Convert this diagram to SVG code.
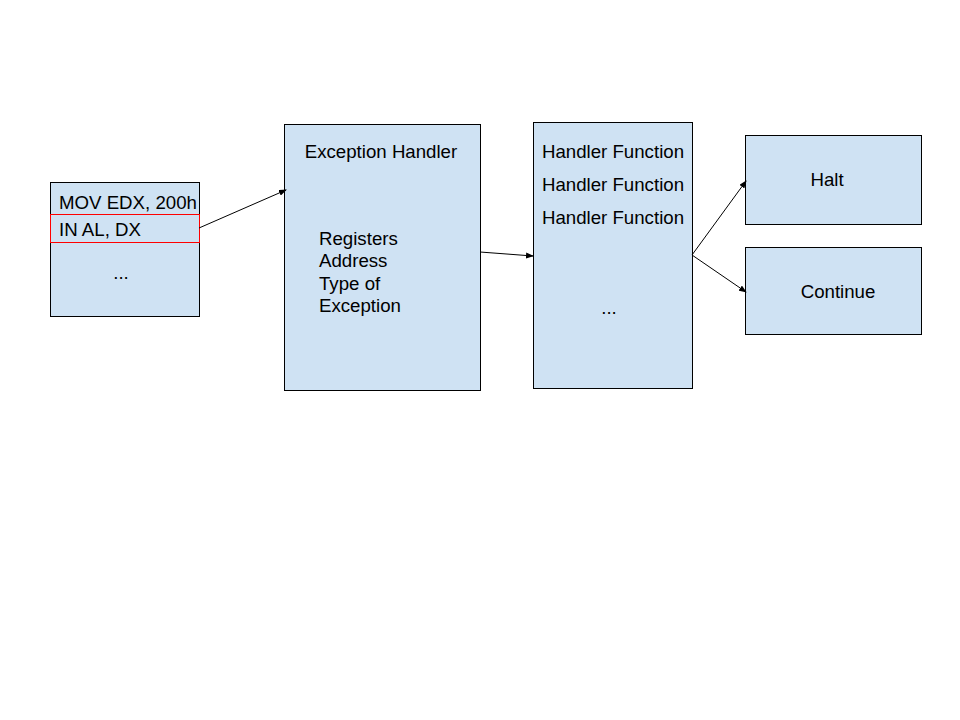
<svg xmlns="http://www.w3.org/2000/svg" width="960" height="720" viewBox="0 0 960 720">
<defs>
<style>
.box{fill:#cfe2f3;stroke:#000;stroke-width:1}
text{font-family:"Liberation Sans",Arial,sans-serif;font-size:18.67px;fill:#000}
.c{stroke:#000;stroke-width:1;fill:none;marker-end:url(#ah)}
</style>
<marker id="ah" markerWidth="8" markerHeight="6" refX="7" refY="3" orient="auto" markerUnits="userSpaceOnUse">
<path d="M0,0 L8,3 L0,6 z" fill="#000"/>
</marker>
</defs>
<rect width="960" height="720" fill="#fff"/>
<g id="code">
<rect class="box" x="50.5" y="182.5" width="149" height="134"/>
<rect x="50.5" y="214.5" width="149" height="28" fill="none" stroke="#ff0000" stroke-width="1"/>
<text x="59" y="209">MOV EDX, 200h</text>
<text x="59" y="236">IN AL, DX</text>
<text x="121" y="279" text-anchor="middle">...</text>
</g>
<g id="exception-handler">
<rect class="box" x="284.5" y="124.5" width="196" height="266"/>
<text x="381" y="158" text-anchor="middle">Exception Handler</text>
<text x="319" y="245">Registers</text>
<text x="319" y="267">Address</text>
<text x="319" y="290">Type of</text>
<text x="319" y="312">Exception</text>
</g>
<g id="handler-functions">
<rect class="box" x="533.5" y="122.5" width="159" height="266"/>
<text x="613" y="158" text-anchor="middle">Handler Function</text>
<text x="613" y="191" text-anchor="middle">Handler Function</text>
<text x="613" y="224" text-anchor="middle">Handler Function</text>
<text x="609" y="314" text-anchor="middle">...</text>
</g>
<g id="halt">
<rect class="box" x="745.5" y="135.5" width="176" height="89"/>
<text x="827" y="186" text-anchor="middle">Halt</text>
</g>
<g id="continue">
<rect class="box" x="745.5" y="247.5" width="176" height="87"/>
<text x="838" y="298" text-anchor="middle">Continue</text>
</g>
<g id="connectors">
<line class="c" x1="199" y1="228" x2="286" y2="190"/>
<line class="c" x1="480" y1="252" x2="533" y2="256"/>
<line class="c" x1="692" y1="255" x2="746" y2="181"/>
<line class="c" x1="692" y1="255" x2="746" y2="292"/>
</g>
</svg>
